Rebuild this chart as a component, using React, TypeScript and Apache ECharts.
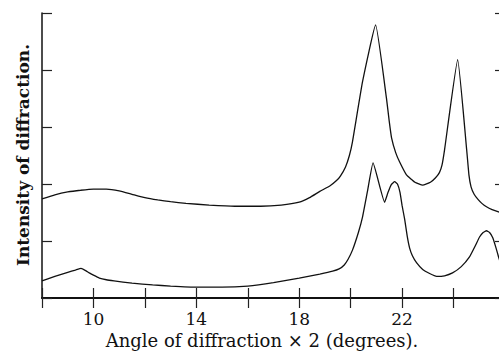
import React, { useEffect, useRef } from "react";
import * as echarts from "echarts";

// Upper curve (angles in degrees 2θ, intensity in arbitrary units)
const upperAngles = [8.0, 8.5, 9.0, 9.5, 10.0, 10.5, 11.0, 11.5, 12.0, 12.5, 13.0, 13.6, 14.5, 15.5, 16.5, 17.3, 18.0, 18.4, 18.8, 19.2, 19.45, 19.6, 19.8, 19.95, 20.07, 20.46, 20.97, 21.39, 21.5, 21.59, 21.75, 21.9, 22.17, 22.5, 22.8, 23.1, 23.3, 23.45, 23.55, 23.65, 24.16, 24.51, 24.6, 24.68, 24.8, 24.95, 25.1, 25.28, 25.5, 25.75, 26.0];
const upperValues = [1.74, 1.81, 1.86, 1.89, 1.91, 1.91, 1.88, 1.82, 1.76, 1.72, 1.69, 1.66, 1.63, 1.61, 1.61, 1.63, 1.68, 1.76, 1.87, 1.97, 2.06, 2.14, 2.3, 2.5, 2.74, 3.79, 4.79, 3.51, 3.1, 2.81, 2.55, 2.39, 2.16, 2.03, 1.98, 2.03, 2.11, 2.2, 2.33, 2.6, 4.18, 2.6, 2.15, 1.95, 1.82, 1.73, 1.66, 1.6, 1.55, 1.51, 1.48];

// Lower curve
const lowerAngles = [8.0, 8.5, 9.0, 9.3, 9.52, 9.7, 9.84, 10.0, 10.23, 10.5, 10.8, 11.5, 12.3, 13.0, 14.0, 15.0, 16.0, 17.0, 18.0, 18.8, 19.3, 19.55, 19.75, 19.9, 20.07, 20.3, 20.46, 20.66, 20.87, 21.32, 21.45, 21.58, 21.71, 21.82, 21.92, 22.0, 22.1, 22.2, 22.29, 22.4, 22.56, 22.8, 23.07, 23.34, 23.65, 23.96, 24.3, 24.62, 24.85, 25.01, 25.15, 25.28, 25.4, 25.52, 25.65, 25.75, 26.0];
const lowerValues = [0.3, 0.38, 0.45, 0.49, 0.52, 0.48, 0.44, 0.4, 0.35, 0.32, 0.3, 0.26, 0.23, 0.21, 0.19, 0.19, 0.21, 0.27, 0.35, 0.42, 0.47, 0.51, 0.58, 0.68, 0.84, 1.15, 1.42, 1.89, 2.37, 1.68, 1.85, 1.99, 2.04, 2.0, 1.85, 1.62, 1.38, 1.08, 0.88, 0.74, 0.62, 0.5, 0.43, 0.38, 0.39, 0.44, 0.55, 0.72, 0.92, 1.07, 1.15, 1.18, 1.15, 1.06, 0.88, 0.72, 0.35];

const xTickLabels = ["10", "14", "18", "22"];
const xTitle = "Angle of diffraction \u00d7 2 (degrees).";
const yTitle = "Intensity of diffraction.";

const FONT = "DejaVu Serif";

export default function App() {
  const ref = useRef<HTMLDivElement>(null);
  useEffect(() => {
    if (!ref.current) return;
    const chart = echarts.init(ref.current, undefined, { renderer: "svg" });
    const upper = upperAngles.map((a, i) => [a, upperValues[i]]);
    const lower = lowerAngles.map((a, i) => [a, lowerValues[i]]);
    const axisLineBase = { show: true, lineStyle: { color: "#111", width: 1.5 } };
    const xTick = { show: true, inside: true, length: 10, lineStyle: { color: "#222", width: 1.2 } };
    const yTick = { show: true, inside: true, length: 10, lineStyle: { color: "#222", width: 1.2 } };
    chart.setOption({
      animation: false,
      backgroundColor: "#fff",
      grid: {
        left: 42,
        top: 13,
        width: 463,
        height: 285,
        containLabel: false,
        outerBoundsMode: "none",
      },
      xAxis: [
        {
          type: "value",
          position: "bottom",
          min: 8,
          max: 26,
          interval: 2,
          axisLine: axisLineBase,
          axisTick: xTick,
          splitLine: { show: false },
          axisLabel: {
            show: true,
            margin: 12,
            fontFamily: FONT,
            fontSize: 17,
            color: "#111",
            formatter: (v: number) => (xTickLabels.includes(String(v)) ? String(v) : ""),
          },
        },
        {
          type: "value",
          position: "top",
          min: 8,
          max: 26,
          interval: 2,
          axisLine: { show: true, lineStyle: { color: "#111", width: 2 } },
          axisTick: xTick,
          splitLine: { show: false },
          axisLabel: { show: false },
        },
      ],
      yAxis: [
        {
          type: "value",
          position: "left",
          min: 0,
          max: 5,
          interval: 1,
          axisLine: axisLineBase,
          axisTick: yTick,
          splitLine: { show: false },
          axisLabel: { show: false },
        },
        {
          type: "value",
          position: "right",
          min: 0,
          max: 5,
          interval: 1,
          axisLine: axisLineBase,
          axisTick: yTick,
          splitLine: { show: false },
          axisLabel: { show: false },
        },
      ],
      series: [
        {
          type: "line",
          data: upper,
          showSymbol: false,
          smooth: 0.12,
          lineStyle: { color: "#111", width: 1.3 },
        },
        {
          type: "line",
          data: lower,
          showSymbol: false,
          smooth: 0.12,
          lineStyle: { color: "#111", width: 1.3 },
        },
      ],
      graphic: [
        {
          type: "text",
          x: 262,
          y: 340,
          style: {
            text: xTitle,
            fontFamily: FONT,
            fontSize: 18,
            fill: "#111",
            textAlign: "center",
            textVerticalAlign: "middle",
          },
        },
        {
          type: "text",
          x: 23,
          y: 155,
          rotation: Math.PI / 2,
          style: {
            text: yTitle,
            fontFamily: FONT,
            fontSize: 17,
            fontWeight: "bold",
            fill: "#111",
            textAlign: "center",
            textVerticalAlign: "middle",
          },
        },
      ],
    });
    return () => chart.dispose();
  }, []);
  return (
    <div
      ref={ref}
      style={{ position: "absolute", left: 0, top: 0, width: 499, height: 355 }}
    />
  );
}
